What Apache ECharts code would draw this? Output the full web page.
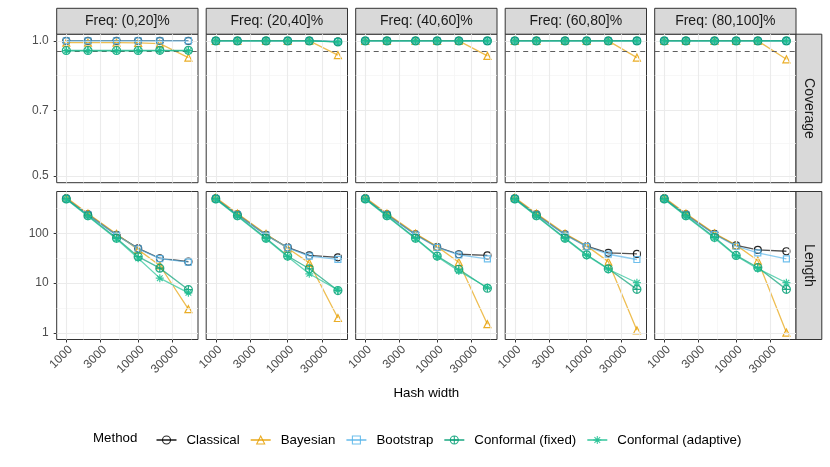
<!DOCTYPE html>
<html>
<head>
<meta charset="utf-8">
<title>Coverage and length by hash width</title>
<script src="https://cdn.jsdelivr.net/npm/echarts@6/dist/echarts.min.js"></script>
<style>
html, body { margin: 0; padding: 0; background: #fff; }
#chart { width: 830px; height: 467px; }
</style>
</head>
<body>
<div id="chart"></div>
<script>
// ---- data ----
var hashWidth = [1000, 2000, 5000, 10000, 20000, 50000];
var freqBins = ['Freq: (0,20]%', 'Freq: (20,40]%', 'Freq: (40,60]%', 'Freq: (60,80]%', 'Freq: (80,100]%'];
var rowNames = ['Coverage', 'Length'];
var methods = ['Classical', 'Bayesian', 'Bootstrap', 'Conformal (fixed)', 'Conformal (adaptive)'];

var xTicks = [1000, 3000, 10000, 30000];
var xMinor = [1732, 5477, 17321, 54772];
var covTicks = [0.5, 0.7, 1.0];
var covMinor = [0.5916, 0.8367];
var lenTicks = [1, 10, 100];
var lenMinor = [3.162, 31.62, 316.2];
var nominal = 0.95;

// coverage: one row per frequency bin
var covClassical = [
    [1, 1, 1, 1, 1, 1],
    [1, 1, 1, 1, 1, 0.996],
    [1, 1, 1, 1, 1, 1],
    [1, 1, 1, 1, 1, 1],
    [1, 1, 1, 1, 1, 1]
];
var covBayesian = [
    [0.991, 0.991, 0.991, 0.99, 0.986, 0.918],
    [1, 1, 1, 1, 1, 0.93],
    [1, 1, 1, 1, 1, 0.926],
    [1, 1, 1, 1, 1, 0.918],
    [1, 1, 1, 1, 1, 0.91]
];
var covBootstrap = [
    [1, 1, 1, 1, 1, 1],
    [1, 1, 1, 1, 1, 0.997],
    [1, 1, 1, 1, 1, 1],
    [1, 1, 1, 1, 1, 1],
    [1, 1, 1, 1, 1, 1]
];
var covConfFixed = [
    [0.952, 0.952, 0.952, 0.952, 0.953, 0.953],
    [1, 1, 1, 1, 1, 0.995],
    [1, 1, 1, 1, 1, 1],
    [1, 1, 1, 1, 1, 1],
    [1, 1, 1, 1, 1, 1]
];
var covConfAdaptive = [
    [0.95, 0.95, 0.95, 0.95, 0.951, 0.95],
    [1, 1, 1, 1, 1, 0.995],
    [1, 1, 1, 1, 1, 1],
    [1, 1, 1, 1, 1, 1],
    [1, 1, 1, 1, 1, 1]
];

// interval length
var lenClassical = [
    [500, 240, 93, 50, 31.6, 27],
    [500, 240, 93, 52, 36, 33],
    [500, 240, 95, 53, 38, 36],
    [500, 240, 95, 55, 40.5, 38.6],
    [500, 240, 97, 57, 46.5, 43.6]
];
var lenBayesian = [
    [520, 250, 97, 47, 22.6, 3.0],
    [520, 250, 97, 50, 25.5, 2.0],
    [520, 250, 99, 54, 26.3, 1.5],
    [520, 250, 99, 56, 27, 1.13],
    [520, 250, 100, 58, 28.4, 1.02]
];
var lenBootstrap = [
    [495, 235, 92, 49, 31, 26.5],
    [495, 235, 92, 51, 35, 30],
    [495, 235, 93, 52, 37, 30.7],
    [495, 235, 93, 54, 38, 29.8],
    [495, 235, 95, 55, 40.5, 30.7]
];
var lenConfFixed = [
    [490, 225, 80, 34, 20, 7.4],
    [490, 225, 80, 35, 19.4, 7.1],
    [490, 225, 80, 35, 19, 7.9],
    [490, 225, 80, 37, 19.4, 7.5],
    [490, 225, 83, 36, 20.6, 7.5]
];
var lenConfAdaptive = [
    [480, 220, 77, 31.6, 12.6, 6.4],
    [480, 220, 77, 34, 15.4, 7.3],
    [480, 220, 78, 34, 17.5, 8.2],
    [480, 220, 78, 36, 19, 10.2],
    [480, 220, 80, 35, 19.5, 10.2]
];

// ---- look ----
var FONT = '"Liberation Sans", Arial, Helvetica, sans-serif';
var colLeft = [56.7, 206.2, 355.7, 505.2, 654.7];
var panelW = 141.3;
var rowTop = [34.2, 191.5];
var rowH = [148.5, 148];
var xRange = [735, 68000];
var yRange = [[0.483, 1.035], [0.74, 690]];
var NONE = 'rgba(0,0,0,0)';
var MAJOR = { color: '#ebebeb', width: 1.1, type: 'solid' };
var MINOR = { color: '#f3f3f3', width: 0.7, type: 'solid' };

var methodStyle = {
    'Classical':            { color: '#000000', symbol: 'circle', size: 7 },
    'Bayesian':             { color: '#E69F00', symbol: 'triangle', size: 7 },
    'Bootstrap':            { color: '#56B4E9', symbol: 'rect', size: 6 },
    'Conformal (fixed)':    { color: '#009E73', symbol: 'path://M10,0A10,10,0,1,1,-10,0A10,10,0,1,1,10,0ZM0,-10L0,10M-10,0L10,0', size: 8 },
    'Conformal (adaptive)': { color: '#1DBF92', symbol: 'path://M0,-10L0,10M-10,0L10,0M-7.07,-7.07L7.07,7.07M-7.07,7.07L7.07,-7.07', size: 8 }
};
var covData = [covClassical, covBayesian, covBootstrap, covConfFixed, covConfAdaptive];
var lenData = [lenClassical, lenBayesian, lenBootstrap, lenConfFixed, lenConfAdaptive];

var chart = echarts.init(document.getElementById('chart'), null, { renderer: 'canvas' });

var grids = [], xAxes = [], yAxes = [], series = [], graphics = [];

function tickOpt(values, visible) {
    return { show: visible, length: 3, customValues: values,
             lineStyle: { color: '#333333', width: 1 } };
}

// panel grid lines, drawn as markLines under the data
function gridLines(xs, ys, style) {
    var out = [];
    for (var i = 0; i < xs.length; i++) out.push({ xAxis: xs[i], lineStyle: style });
    for (var j = 0; j < ys.length; j++) out.push({ yAxis: ys[j], lineStyle: style });
    return out;
}

for (var r = 0; r < 2; r++) {
    for (var p = 0; p < 5; p++) {
        var gi = r * 5 + p;
        grids.push({
            left: colLeft[p], top: rowTop[r], width: panelW, height: rowH[r],
            show: true, borderColor: '#333333', borderWidth: 1, backgroundColor: '#fff'
        });
        var bottomRow = (r === 1), firstCol = (p === 0);
        xAxes.push({
            type: 'log', gridIndex: gi, min: xRange[0], max: xRange[1],
            axisLine: { show: false },
            axisTick: tickOpt(xTicks, bottomRow),
            axisLabel: {
                show: bottomRow, customValues: xTicks, rotate: 45, margin: 4,
                verticalAlign: 'top', align: 'right',
                color: '#4d4d4d', fontSize: 12, fontFamily: FONT,
                formatter: function (v) { return String(Math.round(v)); }
            },
            splitLine: { show: false }
        });
        var ticks = r === 0 ? covTicks : lenTicks;
        var minor = r === 0 ? covMinor : lenMinor;
        yAxes.push({
            type: 'log', gridIndex: gi, min: yRange[r][0], max: yRange[r][1],
            axisLine: { show: false },
            axisTick: tickOpt(ticks, firstCol),
            axisLabel: {
                show: firstCol, customValues: ticks, margin: 8,
                color: '#4d4d4d', fontSize: 12, fontFamily: FONT,
                formatter: r === 0 ? function (v) { return v.toFixed(1); } : function (v) { return String(Math.round(v)); }
            },
            splitLine: { show: false }
        });

        // helper series carrying the grid lines
        series.push({
            name: 'grid', type: 'line', xAxisIndex: gi, yAxisIndex: gi,
            data: [], symbol: 'none', silent: true, animation: false, z: 1,
            markLine: {
                silent: true, symbol: ['none', 'none'], label: { show: false }, animation: false,
                emphasis: { disabled: true },
                data: gridLines(xMinor, minor, MINOR).concat(gridLines(xTicks, ticks, MAJOR))
            }
        });

        for (var m = 0; m < methods.length; m++) {
            var st = methodStyle[methods[m]];
            var vals = (r === 0 ? covData : lenData)[m][p];
            var pts = [];
            for (var k = 0; k < hashWidth.length; k++) pts.push([hashWidth[k], vals[k]]);
            var s = {
                name: methods[m], type: 'line',
                xAxisIndex: gi, yAxisIndex: gi,
                data: pts,
                symbol: st.symbol, symbolSize: st.size,
                lineStyle: { color: st.color, width: 1.3, opacity: 0.68 },
                itemStyle: { color: NONE, borderColor: st.color, borderWidth: 1.2, opacity: 0.85 },
                emphasis: { disabled: true },
                silent: true, animation: false, z: 3 + m
            };
            // nominal 95% level
            if (r === 0 && m === 0) {
                s.markLine = {
                    silent: true, symbol: ['none', 'none'], label: { show: false }, animation: false,
                    lineStyle: { color: '#5e5e5e', type: [5, 4], width: 1.2 },
                    data: [{ yAxis: nominal }]
                };
            }
            series.push(s);
        }
    }
}

// facet strips, top
for (var p2 = 0; p2 < 5; p2++) {
    graphics.push({
        type: 'rect', shape: { x: colLeft[p2], y: 8.3, width: panelW, height: 25.9 },
        style: { fill: '#d9d9d9', stroke: '#333333', lineWidth: 1 }
    });
    graphics.push({
        type: 'text', x: colLeft[p2] + panelW / 2, y: 21.5,
        style: { text: freqBins[p2], align: 'center', verticalAlign: 'middle', fill: '#1a1a1a', fontSize: 14, fontFamily: FONT }
    });
}
// facet strips, right
for (var r2 = 0; r2 < 2; r2++) {
    graphics.push({
        type: 'rect', shape: { x: colLeft[4] + panelW, y: rowTop[r2], width: 25.8, height: rowH[r2] },
        style: { fill: '#d9d9d9', stroke: '#333333', lineWidth: 1 }
    });
    graphics.push({
        type: 'text', x: colLeft[4] + panelW + 13, y: rowTop[r2] + rowH[r2] / 2, rotation: -Math.PI / 2,
        style: { text: rowNames[r2], align: 'center', verticalAlign: 'middle', fill: '#1a1a1a', fontSize: 14, fontFamily: FONT }
    });
}
graphics.push({
    type: 'text', x: (colLeft[0] + colLeft[4] + panelW) / 2, y: 393,
    style: { text: 'Hash width', align: 'center', verticalAlign: 'middle', fill: '#000', fontSize: 13.3, fontFamily: FONT }
});
graphics.push({
    type: 'text', x: 93, y: 438.5,
    style: { text: 'Method', align: 'left', verticalAlign: 'middle', fill: '#000', fontSize: 13.3, fontFamily: FONT }
});

chart.setOption({
    animation: false,
    grid: grids,
    xAxis: xAxes,
    yAxis: yAxes,
    legend: {
        data: methods, left: 150.5, top: 428.5, orient: 'horizontal',
        itemWidth: 20, itemHeight: 10, itemGap: 10, selectedMode: false,
        itemStyle: { color: NONE, borderWidth: 1.1 },
        textStyle: { fontSize: 13.3, fontFamily: FONT, color: '#000', padding: [0, 0, 0, 5] }
    },
    graphic: graphics,
    series: series
});
</script>
</body>
</html>
